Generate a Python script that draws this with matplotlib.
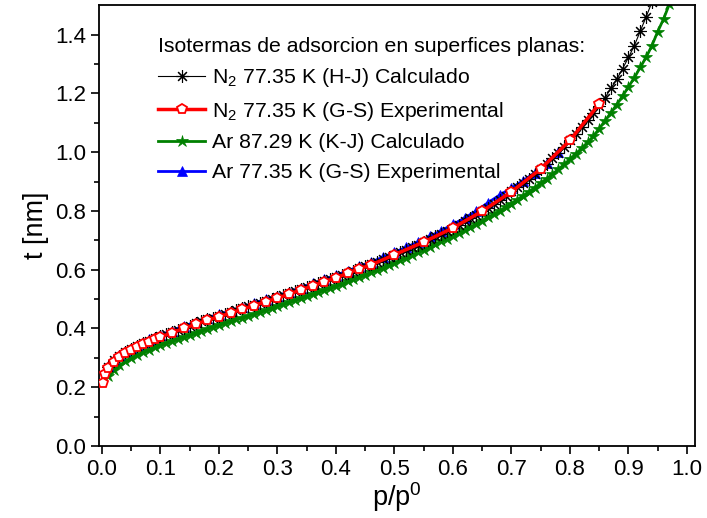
import numpy as np
import matplotlib
matplotlib.use("Agg")
from matplotlib import pyplot as plt

plt.rcParams['font.family'] = ['Liberation Sans', 'DejaVu Sans']
plt.rcParams['mathtext.fontset'] = 'custom'
plt.rcParams['mathtext.rm'] = 'Liberation Sans'
plt.rcParams['mathtext.it'] = 'Liberation Sans'

# N2 77.35 K (H-J) Calculado
p_hj = [0.01, 0.02, 0.03, 0.04, 0.05, 0.06, 0.07, 0.08, 0.09, 0.10,
        0.11, 0.12, 0.13, 0.14, 0.15, 0.16, 0.17, 0.18, 0.19, 0.20,
        0.21, 0.22, 0.23, 0.24, 0.25, 0.26, 0.27, 0.28, 0.29, 0.30,
        0.31, 0.32, 0.33, 0.34, 0.35, 0.36, 0.37, 0.38, 0.39, 0.40,
        0.41, 0.42, 0.43, 0.44, 0.45, 0.46, 0.47, 0.48, 0.49, 0.50,
        0.51, 0.52, 0.53, 0.54, 0.55, 0.56, 0.57, 0.58, 0.59, 0.60,
        0.61, 0.62, 0.63, 0.64, 0.65, 0.66, 0.67, 0.68, 0.69, 0.70,
        0.71, 0.72, 0.73, 0.74, 0.75, 0.76, 0.77, 0.78, 0.79, 0.80,
        0.81, 0.82, 0.83, 0.84, 0.85, 0.86, 0.87, 0.88, 0.89, 0.90,
        0.91, 0.92, 0.93, 0.94, 0.95]
t_hj = [0.270, 0.291, 0.306, 0.319, 0.330, 0.340, 0.349, 0.358, 0.366, 0.373,
        0.381, 0.389, 0.396, 0.403, 0.410, 0.417, 0.424, 0.431, 0.437, 0.443,
        0.449, 0.456, 0.462, 0.469, 0.475, 0.481, 0.488, 0.494, 0.500, 0.507,
        0.514, 0.521, 0.528, 0.535, 0.542, 0.549, 0.556, 0.563, 0.569, 0.576,
        0.583, 0.590, 0.597, 0.604, 0.611, 0.619, 0.627, 0.635, 0.643, 0.651,
        0.659, 0.668, 0.676, 0.685, 0.694, 0.703, 0.713, 0.722, 0.732, 0.742,
        0.753, 0.764, 0.775, 0.787, 0.799, 0.811, 0.824, 0.837, 0.851, 0.866,
        0.880, 0.895, 0.910, 0.926, 0.943, 0.961, 0.979, 0.998, 1.018, 1.040,
        1.062, 1.085, 1.108, 1.132, 1.158, 1.185, 1.217, 1.248, 1.284, 1.322,
        1.362, 1.411, 1.459, 1.510, 1.570]

# N2 77.35 K (G-S) Experimental
p_n2gs = [0.002, 0.005, 0.01, 0.02, 0.03, 0.04, 0.05, 0.06, 0.07, 0.08,
          0.09, 0.10, 0.12, 0.14, 0.16, 0.18, 0.20, 0.22, 0.24, 0.26,
          0.28, 0.30, 0.32, 0.34, 0.36, 0.38, 0.40, 0.42, 0.44, 0.46,
          0.50, 0.55, 0.60, 0.65, 0.70, 0.75, 0.80, 0.85]
t_n2gs = [0.215, 0.245, 0.264, 0.287, 0.302, 0.316, 0.326, 0.337, 0.346, 0.355,
          0.363, 0.370, 0.386, 0.400, 0.414, 0.428, 0.440, 0.452, 0.466, 0.478,
          0.491, 0.503, 0.517, 0.531, 0.545, 0.559, 0.572, 0.588, 0.603, 0.616,
          0.651, 0.694, 0.742, 0.799, 0.865, 0.943, 1.040, 1.164]

# Ar 87.29 K (K-J) Calculado
p_kj = [0.01, 0.02, 0.03, 0.04, 0.05, 0.06, 0.07, 0.08, 0.09, 0.10,
        0.11, 0.12, 0.13, 0.14, 0.15, 0.16, 0.17, 0.18, 0.19, 0.20,
        0.21, 0.22, 0.23, 0.24, 0.25, 0.26, 0.27, 0.28, 0.29, 0.30,
        0.31, 0.32, 0.33, 0.34, 0.35, 0.36, 0.37, 0.38, 0.39, 0.40,
        0.41, 0.42, 0.43, 0.44, 0.45, 0.46, 0.47, 0.48, 0.49, 0.50,
        0.51, 0.52, 0.53, 0.54, 0.55, 0.56, 0.57, 0.58, 0.59, 0.60,
        0.61, 0.62, 0.63, 0.64, 0.65, 0.66, 0.67, 0.68, 0.69, 0.70,
        0.71, 0.72, 0.73, 0.74, 0.75, 0.76, 0.77, 0.78, 0.79, 0.80,
        0.81, 0.82, 0.83, 0.84, 0.85, 0.86, 0.87, 0.88, 0.89, 0.90,
        0.91, 0.92, 0.93, 0.94, 0.95, 0.96, 0.97, 0.98]
t_kj = [0.237, 0.258, 0.274, 0.288, 0.300, 0.310, 0.319, 0.328, 0.336, 0.343,
        0.350, 0.357, 0.364, 0.371, 0.378, 0.385, 0.392, 0.399, 0.406, 0.413,
        0.419, 0.425, 0.431, 0.437, 0.443, 0.449, 0.456, 0.462, 0.469, 0.476,
        0.482, 0.489, 0.496, 0.503, 0.510, 0.517, 0.524, 0.531, 0.538, 0.545,
        0.552, 0.560, 0.567, 0.575, 0.583, 0.591, 0.599, 0.607, 0.615, 0.624,
        0.632, 0.641, 0.650, 0.659, 0.668, 0.677, 0.687, 0.697, 0.706, 0.716,
        0.725, 0.735, 0.745, 0.756, 0.767, 0.778, 0.789, 0.800, 0.812, 0.825,
        0.838, 0.851, 0.865, 0.879, 0.894, 0.909, 0.925, 0.941, 0.958, 0.976,
        0.994, 1.013, 1.033, 1.054, 1.080, 1.107, 1.134, 1.162, 1.191, 1.222,
        1.253, 1.288, 1.322, 1.362, 1.410, 1.453, 1.504, 1.560]

# Ar 77.35 K (G-S) Experimental
p_args = [0.01, 0.02, 0.03, 0.04, 0.05, 0.06, 0.07, 0.08, 0.09, 0.10,
          0.12, 0.14, 0.16, 0.18, 0.20, 0.22, 0.24, 0.26, 0.28, 0.30,
          0.32, 0.34, 0.36, 0.38, 0.40, 0.42, 0.44, 0.46, 0.48, 0.50,
          0.52, 0.54, 0.56, 0.58, 0.60, 0.62, 0.64, 0.66, 0.68, 0.70,
          0.72, 0.74, 0.76, 0.78]
t_args = [0.272, 0.295, 0.311, 0.324, 0.335, 0.345, 0.354, 0.363, 0.371, 0.378,
          0.393, 0.408, 0.422, 0.436, 0.448, 0.460, 0.474, 0.486, 0.499, 0.511,
          0.525, 0.539, 0.553, 0.567, 0.581, 0.596, 0.611, 0.626, 0.642, 0.659,
          0.676, 0.694, 0.713, 0.733, 0.754, 0.776, 0.800, 0.828, 0.854, 0.878,
          0.903, 0.930, 0.962, 1.000]

fig = plt.figure(figsize=(7.07, 5.18), dpi=100)
ax = fig.add_axes([0.140, 0.139, 0.843, 0.851])

ax.plot(p_hj, t_hj, color='black', lw=0.8, marker=(8, 2, 0), ms=9, mew=0.8,
        label=r'N$_2$ 77.35 K (H-J) Calculado', zorder=3)
ax.plot(p_kj, t_kj, color='green', lw=2, marker='*', ms=9, mew=0.5,
        label='Ar 87.29 K (K-J) Calculado', zorder=2)
ax.plot(p_args, t_args, color='blue', lw=2, marker='^', ms=7, mew=0.5,
        label='Ar 77.35 K (G-S) Experimental', zorder=2)
ax.plot(p_n2gs, t_n2gs, color='red', lw=2.5, marker='p', ms=7, mfc='white',
        mec='red', mew=1.3, label=r'N$_2$ 77.35 K (G-S) Experimental', zorder=4)

ax.set_xlim(-0.005, 1.0137)
ax.set_ylim(0, 1.5)
ax.set_xticks(np.arange(0, 1.01, 0.1))
ax.set_xticks(np.arange(0.05, 1.0, 0.1), minor=True)
ax.set_yticks(np.arange(0, 1.41, 0.2))
ax.set_yticks(np.arange(0.1, 1.5, 0.2), minor=True)
ax.xaxis.set_major_formatter(matplotlib.ticker.FormatStrFormatter('%.1f'))
ax.yaxis.set_major_formatter(matplotlib.ticker.FormatStrFormatter('%.1f'))
ax.tick_params(which='both', direction='out', width=1.2, labelsize=16)
ax.tick_params(which='major', length=6)
ax.tick_params(which='minor', length=3.5)
for s in ax.spines.values():
    s.set_linewidth(1.3)

ax.set_xlabel(r'p/p$^0$', fontsize=19.5, labelpad=0)
ax.set_ylabel('t [nm]', fontsize=19.5, labelpad=4)

h, l = ax.get_legend_handles_labels()
order = [0, 3, 1, 2]
leg = ax.legend([h[i] for i in order], [l[i] for i in order],
                title='Isotermas de adsorcion en superfices planas:',
                loc='upper left', bbox_to_anchor=(0.085, 0.948), frameon=False,
                fontsize=15.3, title_fontsize=15.3, handlelength=2.2,
                handletextpad=0.33, labelspacing=0.5, borderaxespad=0)
leg._legend_box.align = 'left'

fig.savefig('out.png', dpi=100)
